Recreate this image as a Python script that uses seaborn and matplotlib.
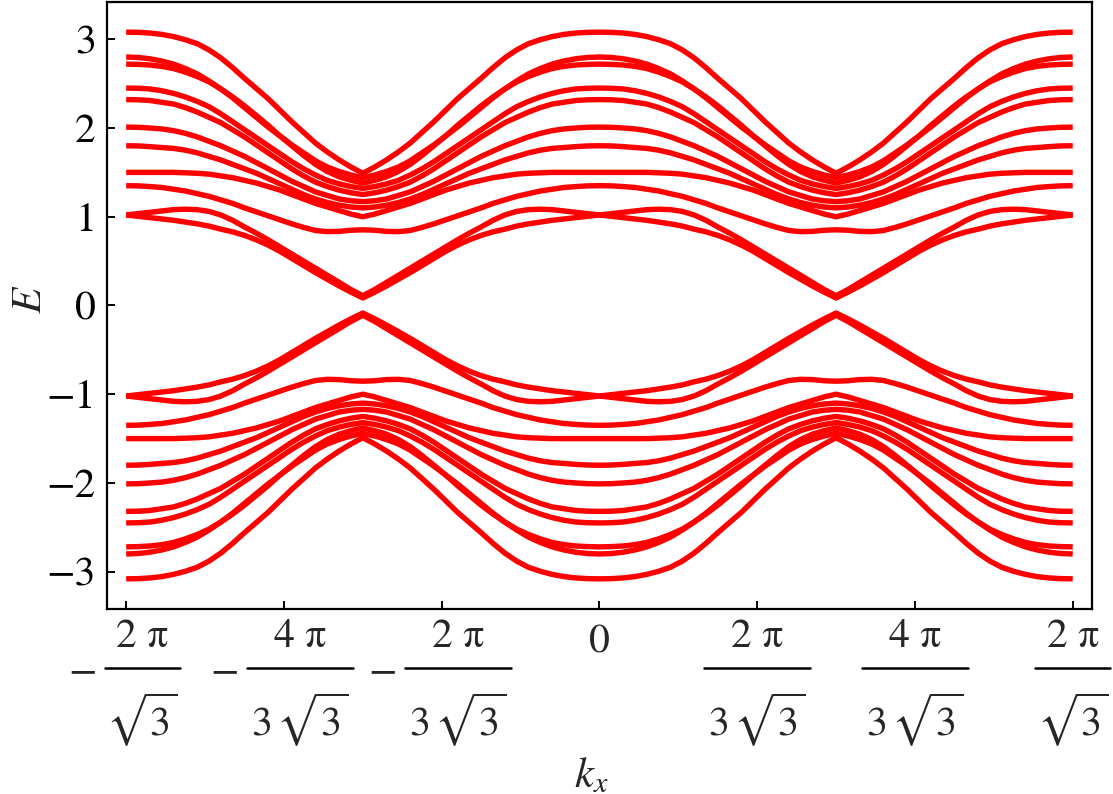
import numpy as np
import pandas as pd
import matplotlib
matplotlib.use("Agg")
import matplotlib.pyplot as plt
from matplotlib.lines import Line2D
from matplotlib.transforms import IdentityTransform
import seaborn as sns

# ---- data -----------------------------------------------------------------
# fraction t of the half period (0 -> k=0, 1 -> k=pi/sqrt(3), the gap point)
t_grid = [0.00, 0.05, 0.10, 0.15, 0.20, 0.25, 0.30, 0.35, 0.40, 0.45, 0.50,
          0.55, 0.60, 0.65, 0.70, 0.75, 0.80, 0.85, 0.90, 0.95, 1.00]

# upper (E>0) bands on that half period; the spectrum is even in k,
# periodic with 2*pi/sqrt(3), and symmetric under E -> -E
band_1 = [3.08, 3.078, 3.07, 3.055, 3.03, 2.995, 2.95, 2.88, 2.79, 2.68, 2.56,
          2.445, 2.33, 2.20, 2.07, 1.95, 1.83, 1.73, 1.64, 1.56, 1.49]
band_2 = [2.80, 2.795, 2.78, 2.755, 2.72, 2.67, 2.61, 2.53, 2.44, 2.34, 2.23,
          2.12, 2.01, 1.91, 1.81, 1.72, 1.63, 1.56, 1.51, 1.47, 1.44]
band_3 = [2.72, 2.717, 2.71, 2.695, 2.67, 2.63, 2.58, 2.52, 2.44, 2.35, 2.25,
          2.14, 2.03, 1.91, 1.80, 1.69, 1.59, 1.51, 1.45, 1.41, 1.38]
band_4 = [2.45, 2.448, 2.44, 2.42, 2.39, 2.35, 2.30, 2.24, 2.16, 2.07, 1.98,
          1.89, 1.80, 1.71, 1.62, 1.54, 1.47, 1.41, 1.37, 1.34, 1.32]
band_5 = [2.32, 2.318, 2.31, 2.29, 2.27, 2.23, 2.18, 2.12, 2.06, 1.98, 1.90,
          1.81, 1.72, 1.63, 1.54, 1.46, 1.39, 1.34, 1.30, 1.27, 1.25]
band_6 = [2.01, 2.008, 2.00, 1.99, 1.97, 1.94, 1.90, 1.85, 1.80, 1.74, 1.68,
          1.61, 1.54, 1.47, 1.40, 1.34, 1.28, 1.24, 1.20, 1.18, 1.17]
band_7 = [1.80, 1.798, 1.79, 1.78, 1.77, 1.75, 1.72, 1.68, 1.64, 1.59, 1.54,
          1.49, 1.43, 1.37, 1.31, 1.25, 1.20, 1.16, 1.13, 1.11, 1.10]
band_8 = [1.50, 1.50, 1.50, 1.50, 1.50, 1.495, 1.49, 1.48, 1.46, 1.44, 1.41,
          1.38, 1.34, 1.30, 1.25, 1.20, 1.15, 1.11, 1.07, 1.03, 1.00]
band_9 = [1.35, 1.348, 1.34, 1.33, 1.31, 1.29, 1.26, 1.23, 1.19, 1.15, 1.10,
          1.055, 1.01, 0.965, 0.92, 0.88, 0.845, 0.832, 0.835, 0.848, 0.853]
band_10 = [1.02, 1.035, 1.05, 1.065, 1.08, 1.085, 1.08, 1.06, 1.02, 0.96, 0.885,
           0.815, 0.74, 0.66, 0.58, 0.50, 0.42, 0.34, 0.26, 0.18, 0.11]
band_11 = [1.02, 1.005, 0.99, 0.975, 0.96, 0.94, 0.92, 0.895, 0.86, 0.83, 0.79,
           0.74, 0.68, 0.61, 0.53, 0.45, 0.37, 0.295, 0.22, 0.15, 0.085]

upper_bands = [band_1, band_2, band_3, band_4, band_5, band_6,
               band_7, band_8, band_9, band_10, band_11]

y_ticks = [-3, -2, -1, 0, 1, 2, 3]
# x tick labels as (sign, numerator, denominator)
x_tick_signs = ["\u2212", "\u2212", "\u2212", "", "", "", ""]
x_tick_nums = ["2 \u03c0", "4 \u03c0", "2 \u03c0", "0", "2 \u03c0", "4 \u03c0", "2 \u03c0"]
x_tick_dens = [r"$\sqrt{3}$", r"$3\,\sqrt{3}$", r"$3\,\sqrt{3}$", "",
               r"$3\,\sqrt{3}$", r"$3\,\sqrt{3}$", r"$\sqrt{3}$"]

# ---- build the full curves by the visible symmetries -----------------------
HALF = np.pi / np.sqrt(3)
t = np.array(t_grid)
k_half = t * HALF


def full_branch(e_half):
    e = np.asarray(e_half, dtype=float)
    k = np.concatenate([-2 * HALF + k_half,
                        (-k_half[::-1])[1:],
                        k_half[1:],
                        (2 * HALF - k_half[::-1])[1:]])
    en = np.concatenate([e, e[::-1][1:], e[1:], e[::-1][1:]])
    return k, en


rows = []
bid = 0
for sign in (1, -1):
    for b in upper_bands:
        k, en = full_branch(b)
        for kk, ee in zip(k, en):
            rows.append((bid, kk, sign * ee))
        bid += 1
df = pd.DataFrame(rows, columns=["band", "k", "E"])

# ---- plot ------------------------------------------------------------------
sns.set_style("ticks")
plt.rcParams["font.family"] = ["STIXGeneral", "DejaVu Serif"]
plt.rcParams["mathtext.fontset"] = "stix"
plt.rcParams["axes.unicode_minus"] = True

W, H = 1113, 794
fig = plt.figure(figsize=(W / 100, H / 100), dpi=100)
ax = fig.add_axes([0.0961, 0.233, 0.885, 0.7645])

sns.lineplot(data=df, x="k", y="E", units="band", estimator=None, sort=False,
             color="#ff0000", lw=3.9, ax=ax, legend=False,
             solid_capstyle="butt", solid_joinstyle="round")

ax.set_xlim(-3.775, 3.775)
ax.set_ylim(-3.42, 3.42)

x_ticks = [-2 * HALF, -4 * np.pi / (3 * np.sqrt(3)), -2 * np.pi / (3 * np.sqrt(3)),
           0, 2 * np.pi / (3 * np.sqrt(3)), 4 * np.pi / (3 * np.sqrt(3)), 2 * HALF]
ax.set_xticks(x_ticks)
ax.set_xticklabels([""] * len(x_ticks))
ax.set_yticks(y_ticks)
ax.set_yticklabels([f"{v:d}".replace("-", "\u2212") for v in y_ticks], fontsize=30)

ax.tick_params(axis="both", direction="in", length=6, width=1.4, color="black",
               labelcolor="black")
ax.tick_params(axis="y", pad=8)

for s in ax.spines.values():
    s.set_linewidth(1.6)
    s.set_color("black")

# stacked-fraction tick labels, placed in pixels under each tick
fig.canvas.draw()
ident = IdentityTransform()
FS = 30
for xv, sg, nm, dn in zip(x_ticks, x_tick_signs, x_tick_nums, x_tick_dens):
    px = ax.transData.transform((xv, 0))[0]
    if dn == "":
        fig.text(px, H - 643, nm, transform=ident, ha="center", va="center",
                 fontsize=FS)
        continue
    bw = 75 if "3\\," not in dn else 106
    cx = px + (16 if sg else 0)
    fig.add_artist(Line2D([cx - bw / 2, cx + bw / 2], [H - 668, H - 668],
                          transform=ident, color="black", lw=1.8))
    fig.text(cx, H - 637, nm, transform=ident, ha="center", va="center",
             fontsize=FS)
    fig.text(cx, H - 720, dn, transform=ident, ha="center", va="center",
             fontsize=FS)
    if sg:
        fig.text(cx - bw / 2 - 22, H - 672, sg, transform=ident, ha="center",
                 va="center", fontsize=FS)

ax.set_xlabel(r"$k_x$", fontsize=31)
ax.set_ylabel(r"$E$", fontsize=31)
ax.xaxis.set_label_coords(0.492, -0.243)
ax.yaxis.set_label_coords(-0.058, 0.51)

fig.savefig("out.png", dpi=100)
